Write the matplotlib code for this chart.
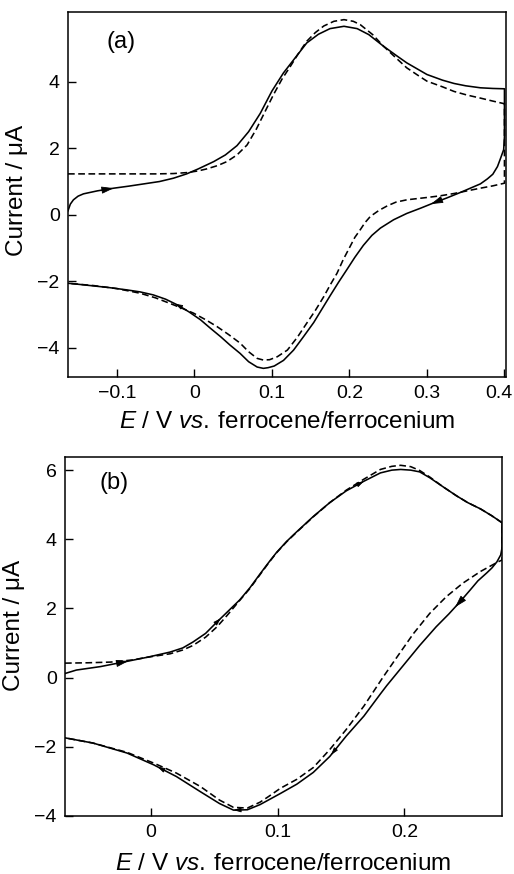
import numpy as np
import matplotlib
matplotlib.use("Agg")
import matplotlib.pyplot as plt
from matplotlib.transforms import ScaledTranslation

plt.rcParams['font.family'] = ['Liberation Sans', 'DejaVu Sans']
plt.rcParams['mathtext.fontset'] = 'custom'
plt.rcParams['mathtext.rm'] = 'Liberation Sans'
plt.rcParams['mathtext.it'] = 'Liberation Sans:italic'

# ---------------- panel (a) ----------------
a_fwd_E = [-0.163, -0.160, -0.156, -0.150, -0.143, -0.125, -0.104, -0.085, -0.065, -0.045,
           -0.027, -0.010, 0.005, 0.025, 0.040, 0.055, 0.070, 0.085, 0.100, 0.115, 0.130,
           0.145, 0.160, 0.175, 0.193, 0.210, 0.225, 0.244, 0.260, 0.274, 0.300, 0.320,
           0.335, 0.350, 0.369, 0.385, 0.400]
a_fwd_I = [0.12, 0.32, 0.45, 0.56, 0.63, 0.72, 0.80, 0.86, 0.93, 1.00,
           1.10, 1.23, 1.38, 1.60, 1.80, 2.08, 2.50, 3.05, 3.72, 4.27, 4.72,
           5.17, 5.43, 5.60, 5.67, 5.60, 5.42, 5.07, 4.80, 4.57, 4.22, 4.05,
           3.95, 3.88, 3.82, 3.80, 3.79]
a_rev_E = [0.400, 0.399, 0.395, 0.391, 0.385, 0.378, 0.369, 0.360, 0.343, 0.325, 0.309,
           0.292, 0.274, 0.257, 0.240, 0.229, 0.218, 0.207, 0.197, 0.186, 0.175, 0.165,
           0.154, 0.141, 0.128, 0.115, 0.103, 0.095, 0.089, 0.081, 0.070, 0.059, 0.046,
           0.034, 0.020, 0.008, -0.007, -0.022, -0.037, -0.053, -0.070, -0.087, -0.110,
           -0.130, -0.150, -0.163]
a_rev_I = [2.35, 1.96, 1.70, 1.45, 1.22, 1.08, 0.93, 0.84, 0.67, 0.50, 0.36,
           0.20, 0.04, -0.15, -0.40, -0.62, -0.92, -1.28, -1.64, -2.03, -2.44, -2.82,
           -3.24, -3.66, -4.07, -4.38, -4.55, -4.60, -4.62, -4.58, -4.42, -4.17, -3.92,
           -3.67, -3.40, -3.16, -2.92, -2.71, -2.54, -2.41, -2.32, -2.26, -2.19,
           -2.14, -2.09, -2.06]
a_sim_fwd_E = [-0.163, -0.120, -0.080, -0.050, -0.027, -0.009, 0.005, 0.016, 0.030, 0.042,
               0.055, 0.068, 0.080, 0.090, 0.102, 0.113, 0.124, 0.135, 0.145, 0.156,
               0.167, 0.180, 0.193, 0.205, 0.214, 0.230, 0.244, 0.260, 0.274, 0.290,
               0.300, 0.320, 0.335, 0.352, 0.369, 0.385, 0.400]
a_sim_fwd_I = [1.23, 1.23, 1.23, 1.23, 1.24, 1.27, 1.32, 1.38, 1.48, 1.60,
               1.80, 2.10, 2.58, 3.05, 3.61, 4.08, 4.47, 4.88, 5.22, 5.48,
               5.68, 5.82, 5.87, 5.82, 5.72, 5.42, 5.07, 4.72, 4.42, 4.17,
               4.02, 3.85, 3.71, 3.60, 3.51, 3.42, 3.34]
a_sim_rev_E = [0.400, 0.385, 0.369, 0.352, 0.335, 0.317, 0.300, 0.285, 0.274, 0.260,
               0.249, 0.238, 0.227, 0.220, 0.214, 0.207, 0.201, 0.192, 0.184, 0.175,
               0.167, 0.156, 0.145, 0.133, 0.120, 0.107, 0.097, 0.089, 0.081, 0.070,
               0.059, 0.044, 0.029, 0.014, -0.001, -0.015, -0.030, -0.050, -0.070,
               -0.100, -0.130, -0.163]
a_sim_rev_I = [0.95, 0.87, 0.80, 0.72, 0.64, 0.57, 0.52, 0.48, 0.45, 0.38,
               0.27, 0.13, -0.05, -0.24, -0.45, -0.68, -0.95, -1.35, -1.76, -2.12,
               -2.46, -2.88, -3.26, -3.68, -4.07, -4.27, -4.36, -4.37, -4.32, -4.12,
               -3.86, -3.60, -3.36, -3.15, -2.96, -2.82, -2.68, -2.50, -2.36,
               -2.22, -2.13, -2.06]
a_xticks = [-0.1, 0.0, 0.1, 0.2, 0.3, 0.4]
a_xtick_labels = ["\u22120.1", "0", "0.1", "0.2", "0.3", "0.4"]
a_yticks = [-4, -2, 0, 2, 4]
a_ytick_labels = ["\u22124", "\u22122", "0", "2", "4"]
a_arrows_fwd = [(-0.104, 'big')]
a_arrows_rev = [(0.305, 'big'), (-0.025, 'small')]

# ---------------- panel (b) ----------------
b_fwd_E = [-0.068, -0.059, -0.040, -0.022, -0.003, 0.015, 0.025, 0.033, 0.043, 0.052,
           0.061, 0.070, 0.078, 0.086, 0.093, 0.099, 0.107, 0.115, 0.128, 0.141,
           0.154, 0.168, 0.181, 0.190, 0.197, 0.205, 0.212, 0.220, 0.230, 0.241,
           0.250, 0.260, 0.269, 0.277]
b_fwd_I = [0.12, 0.22, 0.32, 0.45, 0.59, 0.74, 0.86, 1.03, 1.28, 1.61,
           1.93, 2.25, 2.60, 3.00, 3.34, 3.62, 3.94, 4.22, 4.66, 5.06,
           5.40, 5.68, 5.92, 6.00, 6.02, 6.00, 5.95, 5.78, 5.53, 5.26,
           5.06, 4.88, 4.68, 4.48]
b_rev_E = [0.277, 0.276, 0.273, 0.269, 0.265, 0.258, 0.252, 0.244, 0.235, 0.225,
           0.212, 0.199, 0.186, 0.181, 0.168, 0.154, 0.141, 0.128, 0.115, 0.102,
           0.093, 0.086, 0.076, 0.065, 0.054, 0.039, 0.020, 0.002, -0.019, -0.046,
           -0.068]
b_rev_I = [3.75, 3.55, 3.35, 3.17, 3.03, 2.80, 2.54, 2.20, 1.84, 1.47,
           0.93, 0.35, -0.23, -0.47, -1.11, -1.69, -2.28, -2.74, -3.08, -3.35,
           -3.53, -3.67, -3.82, -3.83, -3.64, -3.30, -2.86, -2.52, -2.18, -1.89,
           -1.74]
b_sim_fwd_E = [-0.068, -0.050, -0.032, -0.015, -0.003, 0.015, 0.025, 0.033, 0.043, 0.052,
               0.060, 0.068, 0.078, 0.086, 0.093, 0.099, 0.107, 0.115, 0.128, 0.141,
               0.154, 0.168, 0.181, 0.190, 0.197, 0.205, 0.212, 0.220, 0.230, 0.241,
               0.250, 0.260, 0.269, 0.277]
b_sim_fwd_I = [0.42, 0.43, 0.45, 0.51, 0.59, 0.69, 0.80, 0.93, 1.17, 1.47,
               1.80, 2.15, 2.58, 2.98, 3.33, 3.61, 3.93, 4.21, 4.65, 5.06,
               5.42, 5.74, 6.02, 6.11, 6.14, 6.10, 5.99, 5.80, 5.53, 5.26,
               5.06, 4.88, 4.68, 4.48]
b_sim_rev_E = [0.277, 0.274, 0.270, 0.260, 0.246, 0.233, 0.220, 0.207, 0.194, 0.183,
               0.168, 0.154, 0.141, 0.128, 0.115, 0.102, 0.093, 0.086, 0.076, 0.065,
               0.054, 0.039, 0.020, 0.002, -0.019, -0.046, -0.068]
b_sim_rev_I = [3.40, 3.35, 3.27, 3.07, 2.73, 2.34, 1.86, 1.27, 0.59, 0.01,
               -0.82, -1.50, -2.08, -2.60, -2.94, -3.20, -3.43, -3.60, -3.77, -3.75,
               -3.54, -3.15, -2.76, -2.47, -2.16, -1.89, -1.74]
b_xticks = [0.0, 0.1, 0.2]
b_xtick_labels = ["0", "0.1", "0.2"]
b_yticks = [-4, -2, 0, 2, 4, 6]
b_ytick_labels = ["\u22124", "\u22122", "0", "2", "4", "6"]
b_arrows_fwd = [(-0.018, 'big'), (0.055, 'small'), (0.168, 'small')]
b_arrows_rev = [(0.240, 'big'), (0.142, 'small'), (0.065, 'small'), (0.005, 'small')]

XLABEL = r"$E$ / V $vs.\:$ferrocene/ferrocenium"
YLABEL = "Current / \u03bcA"

TICK_FS = 14
LABEL_FS = 17.5
PANEL_FS = 17
LW = 1.15
DASH = (0, (4.2, 2.2))


def arrowhead(ax, E, I, x0, direction, kind):
    E = np.asarray(E, float)
    I = np.asarray(I, float)
    if E[0] > E[-1]:
        E, I = E[::-1], I[::-1]
    step = 0.004
    x1 = x0 - direction * step
    y0 = np.interp(x0, E, I)
    y1 = np.interp(x1, E, I)
    if kind == 'big':
        style = '-|>,head_length=0.75,head_width=0.22'
    else:
        style = '-|>,head_length=0.45,head_width=0.14'
    ax.annotate('', xy=(x0, y0), xytext=(x1, y1),
                arrowprops=dict(arrowstyle=style, fc='k', ec='k', lw=0.6,
                                shrinkA=0, shrinkB=0))


def style_axes(ax, xlim, ylim, xticks, xtl, yticks, ytl):
    ax.set_xlim(*xlim)
    ax.set_ylim(*ylim)
    ax.set_xticks(xticks)
    ax.set_xticklabels(xtl)
    ax.set_yticks(yticks)
    ax.set_yticklabels(ytl)
    ax.tick_params(direction='in', length=6, width=1.0, labelsize=TICK_FS, pad=6,
                   top=False, right=False)
    for s in ax.spines.values():
        s.set_linewidth(1.1)


fig = plt.figure(figsize=(5.14, 8.74), dpi=100)
W, H = 514.0, 874.0

# panel (a)
ax1 = fig.add_axes([68 / W, 1 - 377 / H, 438 / W, 365 / H])
ax1.plot(a_fwd_E + a_rev_E, a_fwd_I + a_rev_I, color='k', lw=LW)
ax1.plot(a_sim_fwd_E + a_sim_rev_E, a_sim_fwd_I + a_sim_rev_I, color='k', lw=LW, ls=DASH)
for x0, kind in a_arrows_fwd:
    arrowhead(ax1, a_fwd_E, a_fwd_I, x0, +1, kind)
for x0, kind in a_arrows_rev:
    arrowhead(ax1, a_rev_E, a_rev_I, x0, -1, kind)
style_axes(ax1, (-0.163, 0.402), (-4.88, 6.1), a_xticks, a_xtick_labels,
           a_yticks, a_ytick_labels)
# keep the last tick label inside the figure edge
last = ax1.get_xticklabels()[-1]
last.set_transform(last.get_transform() + ScaledTranslation(-4 / 72, 0, fig.dpi_scale_trans))
ax1.set_xlabel(XLABEL, fontsize=LABEL_FS)
ax1.set_ylabel(YLABEL, fontsize=LABEL_FS)
ax1.xaxis.set_label_coords(0.5, -0.093)
ax1.yaxis.set_label_coords(-0.092, 0.51)
ax1.text(0.088, 0.918, "(a)", transform=ax1.transAxes, fontsize=PANEL_FS,
         ha='left', va='center')

# panel (b)
ax2 = fig.add_axes([65 / W, 1 - 816 / H, 437 / W, 359 / H])
ax2.plot(b_fwd_E + b_rev_E, b_fwd_I + b_rev_I, color='k', lw=LW)
ax2.plot(b_sim_fwd_E + b_sim_rev_E, b_sim_fwd_I + b_sim_rev_I, color='k', lw=LW, ls=DASH)
for x0, kind in b_arrows_fwd:
    arrowhead(ax2, b_fwd_E, b_fwd_I, x0, +1, kind)
for x0, kind in b_arrows_rev:
    arrowhead(ax2, b_rev_E, b_rev_I, x0, -1, kind)
style_axes(ax2, (-0.068, 0.277), (-4.0, 6.38), b_xticks, b_xtick_labels,
           b_yticks, b_ytick_labels)
ax2.set_xlabel(XLABEL, fontsize=LABEL_FS)
ax2.set_ylabel(YLABEL, fontsize=LABEL_FS)
ax2.xaxis.set_label_coords(0.5, -0.104)
ax2.yaxis.set_label_coords(-0.092, 0.53)
ax2.text(0.078, 0.928, "(b)", transform=ax2.transAxes, fontsize=PANEL_FS,
         ha='left', va='center')

fig.savefig("out.png", dpi=100)
